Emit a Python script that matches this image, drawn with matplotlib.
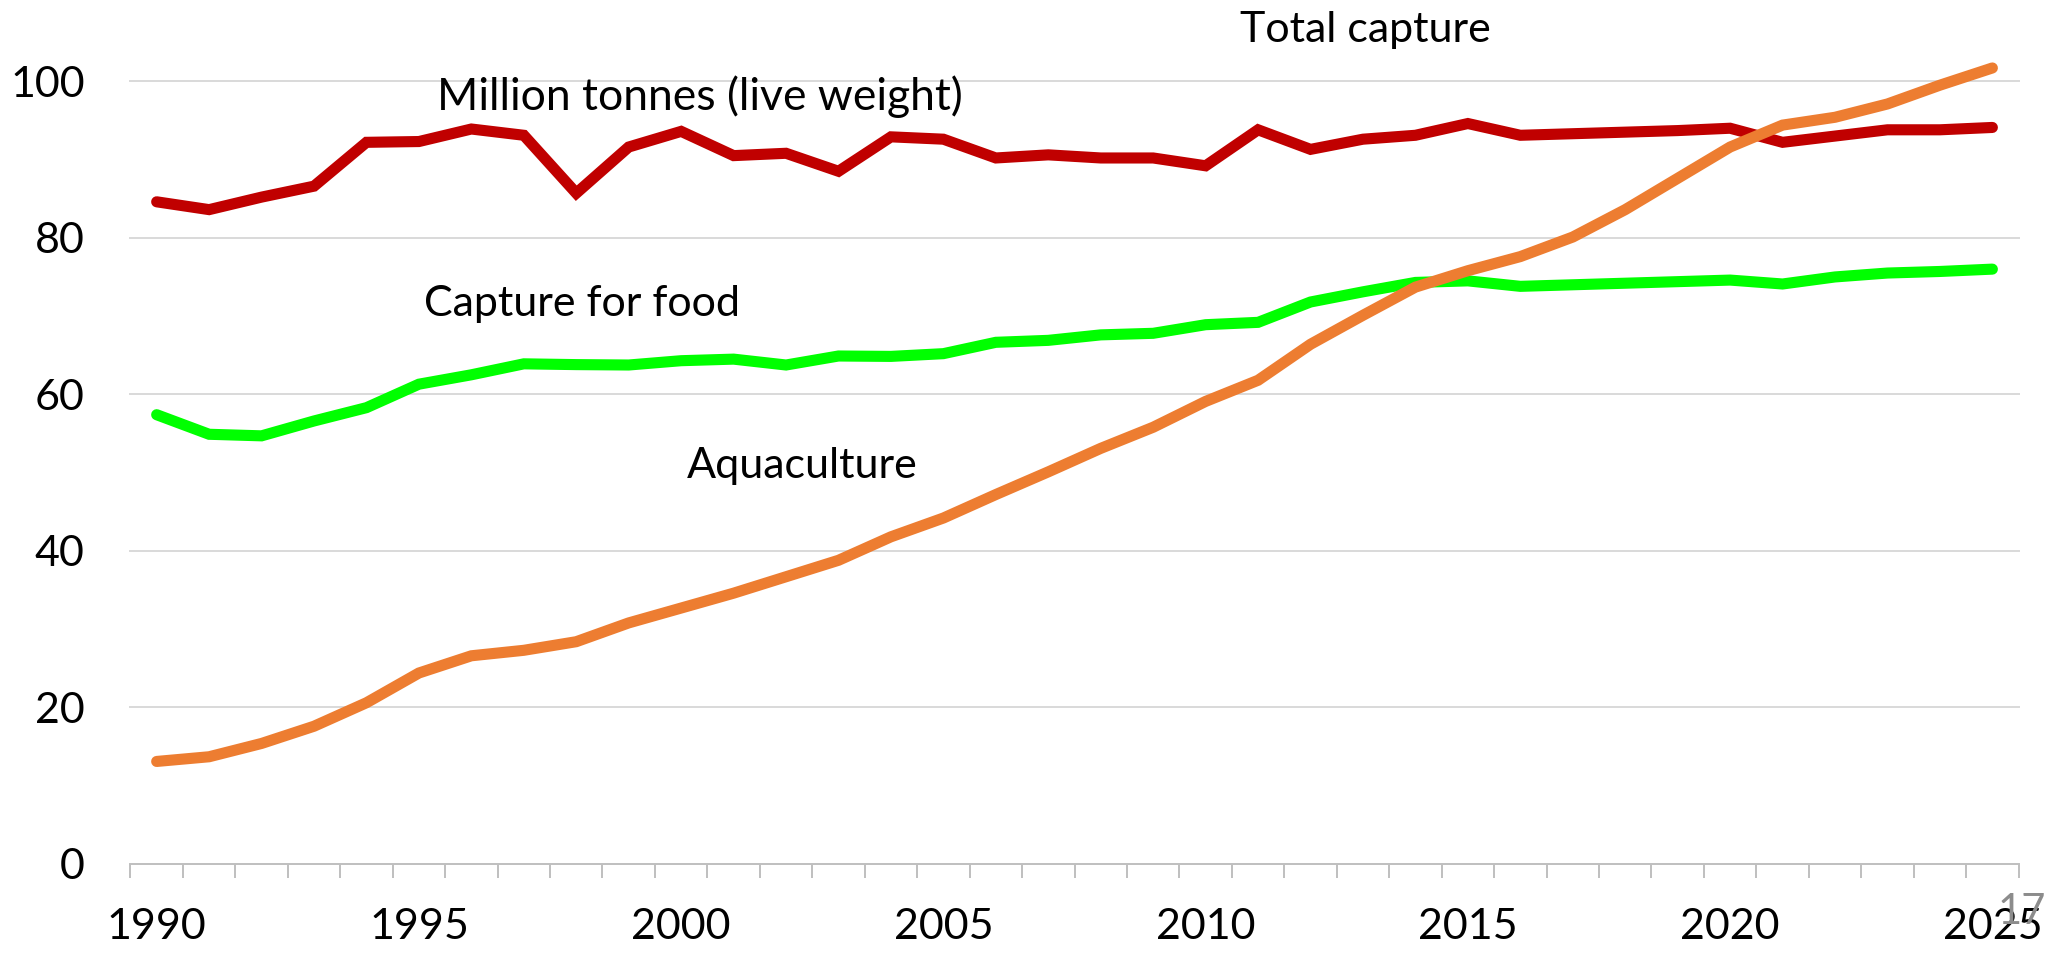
import matplotlib.pyplot as plt
import numpy as np

# Data (million tonnes, live weight)
years = list(range(1990, 2026))
total_capture = [84.6, 83.6, 85.2, 86.6, 92.2, 92.3, 93.9, 93.1, 85.7, 91.6,
                 93.6, 90.5, 90.8, 88.5, 92.9, 92.6, 90.2, 90.6, 90.2, 90.2,
                 89.2, 93.8, 91.3, 92.6, 93.1, 94.6, 93.1, 93.3, 93.5, 93.7,
                 94.0, 92.2, 93.0, 93.8, 93.8, 94.1]
capture_food = [57.4, 54.9, 54.7, 56.6, 58.3, 61.3, 62.5, 63.9, 63.8, 63.75,
                64.3, 64.5, 63.75, 64.9, 64.85, 65.2, 66.65, 66.9, 67.6, 67.8,
                68.9, 69.2, 71.8, 73.1, 74.3, 74.5, 73.8, 74.0, 74.2, 74.4,
                74.6, 74.1, 75.0, 75.5, 75.7, 76.0]
aquaculture = [13.1, 13.7, 15.4, 17.6, 20.6, 24.4, 26.6, 27.3, 28.4, 30.8,
               32.7, 34.6, 36.7, 38.8, 41.8, 44.2, 47.2, 50.1, 53.1, 55.8,
               59.1, 61.8, 66.4, 70.1, 73.7, 75.8, 77.6, 80.1, 83.6, 87.6,
               91.6, 94.4, 95.4, 97.1, 99.5, 101.7]
yticks = [0, 20, 40, 60, 80, 100]
xlabels = [1990, 1995, 2000, 2005, 2010, 2015, 2020, 2025]

plt.rcParams['font.family'] = ['Lato', 'DejaVu Sans']

fig = plt.figure(figsize=(20.64, 9.55), dpi=100)
ax = fig.add_axes([0.0632, 0.0953, 0.9148, 0.8196])

lw = 8
ax.plot(years, total_capture, color='#C00000', lw=lw, solid_capstyle='round',
        solid_joinstyle='miter', clip_on=False, zorder=3)
ax.plot(years, capture_food, color='#00FF00', lw=lw, solid_capstyle='round',
        solid_joinstyle='miter', clip_on=False, zorder=3)
ax.plot(years, aquaculture, color='#ED7D31', lw=lw, solid_capstyle='round',
        solid_joinstyle='miter', clip_on=False, zorder=4)

ax.set_xlim(1989.5, 2025.5)
ax.set_ylim(0, 100)

# gridlines
for v in yticks[1:]:
    ax.axhline(v, color='#D9D9D9', lw=1.4, zorder=1, clip_on=False)

for s in ['top', 'right', 'left']:
    ax.spines[s].set_visible(False)
ax.spines['bottom'].set_color('#BFBFBF')
ax.spines['bottom'].set_linewidth(1.4)

ax.set_yticks(yticks)
ax.set_yticklabels([str(v) for v in yticks])
ax.tick_params(axis='y', length=0, pad=33, labelsize=31, labelcolor='black')

ax.set_xticks(xlabels)
ax.set_xticklabels([str(v) for v in xlabels])
ax.set_xticks(np.arange(1989.5, 2026, 1), minor=True)
ax.tick_params(axis='x', which='major', length=0, pad=32, labelsize=31)
ax.tick_params(axis='x', which='minor', length=10, width=1.4, color='#BFBFBF',
               direction='out')

# series labels
ax.text(0.1622, 0.9637, 'Million tonnes (live weight)', transform=ax.transAxes,
        fontsize=32, ha='left', va='baseline', color='black')
fig.text(1240 / 2064, 1 - 42 / 955, 'Total capture', fontsize=31,
         ha='left', va='baseline')
fig.text(424 / 2064, 1 - 316 / 955, 'Capture for food', fontsize=31,
         ha='left', va='baseline')
fig.text(687 / 2064, 1 - 478 / 955, 'Aquaculture', fontsize=31,
         ha='left', va='baseline')

# page number
fig.text(2022 / 2064, 1 - 893 / 955, '17', fontsize=30, color='#8C8C8C',
         ha='center', va='top')

fig.savefig('out.png', dpi=100)
